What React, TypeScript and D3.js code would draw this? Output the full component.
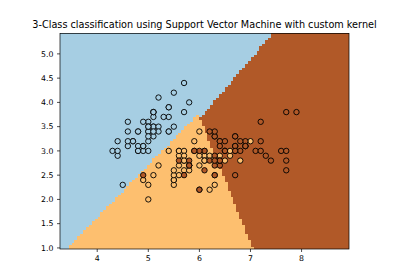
import React from "react";
import * as d3 from "d3";

// Iris: sepal length (x) and sepal width (y) per class
const setosaLength = [5.1,4.9,4.7,4.6,5.0,5.4,4.6,5.0,4.4,4.9,5.4,4.8,4.8,4.3,5.8,5.7,5.4,5.1,5.7,5.1,5.4,5.1,4.6,5.1,4.8,5.0,5.0,5.2,5.2,4.7,4.8,5.4,5.2,5.5,4.9,5.0,5.5,4.9,4.4,5.1,5.0,4.5,4.4,5.0,5.1,4.8,5.1,4.6,5.3,5.0];
const setosaWidth = [3.5,3.0,3.2,3.1,3.6,3.9,3.4,3.4,2.9,3.1,3.7,3.4,3.0,3.0,4.0,4.4,3.9,3.5,3.8,3.8,3.4,3.7,3.6,3.3,3.4,3.0,3.4,3.5,3.4,3.2,3.1,3.4,4.1,4.2,3.1,3.2,3.5,3.6,3.0,3.4,3.5,2.3,3.2,3.5,3.8,3.0,3.8,3.2,3.7,3.3];
const versicolorLength = [7.0,6.4,6.9,5.5,6.5,5.7,6.3,4.9,6.6,5.2,5.0,5.9,6.0,6.1,5.6,6.7,5.6,5.8,6.2,5.6,5.9,6.1,6.3,6.1,6.4,6.6,6.8,6.7,6.0,5.7,5.5,5.5,5.8,6.0,5.4,6.0,6.7,6.3,5.6,5.5,5.5,6.1,5.8,5.0,5.6,5.7,5.7,6.2,5.1,5.7];
const versicolorWidth = [3.2,3.2,3.1,2.3,2.8,2.8,3.3,2.4,2.9,2.7,2.0,3.0,2.2,2.9,2.9,3.1,3.0,2.7,2.2,2.5,3.2,2.8,2.5,2.8,2.9,3.0,2.8,3.0,2.9,2.6,2.4,2.4,2.7,2.7,3.0,3.4,3.1,2.3,3.0,2.5,2.6,3.0,2.6,2.3,2.7,3.0,2.9,2.9,2.5,2.8];
const virginicaLength = [6.3,5.8,7.1,6.3,6.5,7.6,4.9,7.3,6.7,7.2,6.5,6.4,6.8,5.7,5.8,6.4,6.5,7.7,7.7,6.0,6.9,5.6,7.7,6.3,6.7,7.2,6.2,6.1,6.4,7.2,7.4,7.9,6.4,6.3,6.1,7.7,6.3,6.4,6.0,6.9,6.7,6.9,5.8,6.8,6.7,6.7,6.3,6.5,6.2,5.9];
const virginicaWidth = [3.3,2.7,3.0,2.9,3.0,3.0,2.5,2.9,2.5,3.6,3.2,2.7,3.0,2.5,2.8,3.2,3.0,3.8,2.6,2.2,3.2,2.8,2.8,2.7,3.3,3.2,2.8,3.0,2.8,3.0,2.8,3.8,2.8,2.8,2.6,3.0,3.4,3.1,3.0,3.1,3.1,3.1,2.7,3.2,3.3,3.0,2.5,3.0,3.4,3.0];

// Pairwise (one-vs-one) linear decision boundaries, in data units.
// Positive side of the line (from -> to) votes for the lower class index.
const boundaryClasses = [[0, 1], [0, 2], [1, 2]];
const boundaryFrom = [[3.438, 1.02], [6.016, 3.68], [7.027, 1.033]];
const boundaryTo = [[5.94, 3.72], [7.419, 5.4], [5.98, 3.748]];

const classColors = ["#a6cee3", "#fdbf6f", "#b15928"];
const xTicks = [4, 5, 6, 7, 8];
const yTicks = [1.0, 1.5, 2.0, 2.5, 3.0, 3.5, 4.0, 4.5, 5.0];
const titleText = "3-Class classification using Support Vector Machine with custom kernel";
const gridResolution = 100;

const W = 400, H = 280;
const left = 60, right = 349, top = 33.4, bottom = 249;
const FONT = "DejaVu Sans, sans-serif";

function predict(px: number, py: number): number {
  const votes = [0, 0, 0];
  for (let k = 0; k < boundaryClasses.length; k++) {
    const [ax, ay] = boundaryFrom[k];
    const [bx, by] = boundaryTo[k];
    const c = (bx - ax) * (py - ay) - (by - ay) * (px - ax);
    votes[c > 0 ? boundaryClasses[k][0] : boundaryClasses[k][1]] += 1;
  }
  let best = 0;
  for (let i = 1; i < 3; i++) if (votes[i] > votes[best]) best = i;
  return best;
}

export default function App() {
  const points: { x: number; y: number; c: number }[] = [];
  const groups = [
    [setosaLength, setosaWidth],
    [versicolorLength, versicolorWidth],
    [virginicaLength, virginicaWidth],
  ];
  groups.forEach(([xs, ys], c) => xs.forEach((x, i) => points.push({ x, y: ys[i], c })));

  const allX = points.map((p) => p.x);
  const allY = points.map((p) => p.y);
  const xMin = (d3.min(allX) as number) - 1, xMax = (d3.max(allX) as number) + 1;
  const yMin = (d3.min(allY) as number) - 1, yMax = (d3.max(allY) as number) + 1;
  const hx = (xMax - xMin) / (gridResolution - 1);
  const hy = (yMax - yMin) / (gridResolution - 1);

  const xScale = d3.scaleLinear().domain([xMin - hx / 2, xMax + hx / 2]).range([left, right]);
  const yScale = d3.scaleLinear().domain([yMin - hy / 2, yMax + hy / 2]).range([bottom, top]);

  const gx = d3.range(gridResolution).map((i) => xMin + i * hx);
  const gy = d3.range(gridResolution).map((j) => yMin + j * hy);

  const cells: { x0: number; x1: number; y0: number; y1: number; c: number }[] = [];
  gy.forEach((yv) => {
    let start = 0;
    let cur = predict(gx[0], yv);
    for (let i = 1; i <= gridResolution; i++) {
      const c = i < gridResolution ? predict(gx[i], yv) : -1;
      if (c !== cur) {
        cells.push({ x0: gx[start] - hx / 2, x1: gx[i - 1] + hx / 2, y0: yv - hy / 2, y1: yv + hy / 2, c: cur });
        start = i;
        cur = c;
      }
    }
  });

  return (
    <svg width={W} height={H} style={{ display: "block", position: "absolute", left: 0, top: 0 }}>
      <rect x={0} y={0} width={W} height={H} fill="#ffffff" />
      <g shapeRendering="crispEdges">
        {cells.map((d, i) => (
          <rect
            key={i}
            x={xScale(d.x0)}
            y={yScale(d.y1)}
            width={xScale(d.x1) - xScale(d.x0)}
            height={yScale(d.y0) - yScale(d.y1)}
            fill={classColors[d.c]}
          />
        ))}
      </g>
      {points.map((p, i) => (
        <circle key={i} cx={xScale(p.x)} cy={yScale(p.y)} r={2.7} fill={classColors[p.c]} stroke="#000" strokeWidth={0.9} />
      ))}
      <rect x={left} y={top} width={right - left} height={bottom - top} fill="none" stroke="#000" strokeWidth={0.7} />
      {xTicks.map((t) => (
        <g key={"x" + t}>
          <line x1={xScale(t)} x2={xScale(t)} y1={bottom} y2={bottom + 3} stroke="#000" strokeWidth={0.7} />
          <text x={xScale(t)} y={bottom + 11.7} textAnchor="middle" fontFamily={FONT} fontSize={7.8} fill="#000">
            {d3.format("d")(t)}
          </text>
        </g>
      ))}
      {yTicks.map((t) => (
        <g key={"y" + t}>
          <line x1={left - 3} x2={left} y1={yScale(t)} y2={yScale(t)} stroke="#000" strokeWidth={0.7} />
          <text x={left - 6.5} y={yScale(t) + 2.8} textAnchor="end" fontFamily={FONT} fontSize={7.8} fill="#000">
            {d3.format(".1f")(t)}
          </text>
        </g>
      ))}
      <text x={(left + right) / 2} y={28.3} textAnchor="middle" fontFamily={FONT} fontSize={9.7} fill="#000">
        {titleText}
      </text>
    </svg>
  );
}
